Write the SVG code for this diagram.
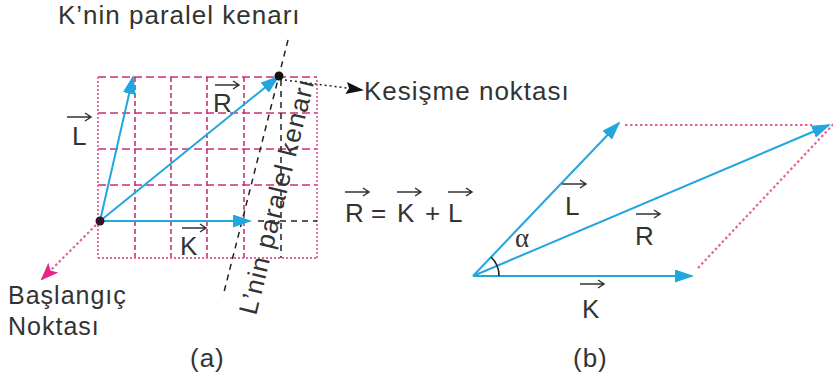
<svg xmlns="http://www.w3.org/2000/svg" xmlns:xlink="http://www.w3.org/1999/xlink" width="833" height="382" viewBox="0 0 833 382">
<style>
  .t { font-family: "Liberation Sans", Arial, sans-serif; font-size: 26px; fill: #333; letter-spacing: 1px; }
  .g-dash-h { stroke: #c8307a; stroke-width: 1.6; stroke-dasharray: 8 4; fill: none; }
  .g-dash-v { stroke: #c8307a; stroke-width: 1.6; stroke-dasharray: 5 3; fill: none; }
  .g-dot { stroke: #e8649f; stroke-width: 1.8; stroke-dasharray: 2 2; fill: none; }
  .blk-dash { stroke: #222; stroke-width: 1.5; stroke-dasharray: 6 5; fill: none; }
  .vec { stroke: #22a6de; stroke-width: 2; fill: none; marker-end: url(#ah); }
  .pink-dot { stroke: #e8609a; stroke-width: 2.2; stroke-dasharray: 2.5 2.5; fill: none; }
  .ov { stroke: #333; stroke-width: 1.5; fill: none; }
</style>
<defs>
  <marker id="ah" markerUnits="userSpaceOnUse" markerWidth="19" markerHeight="13" viewBox="0 0 19 13" refX="17" refY="6.5" orient="auto">
    <path d="M0,0 L19,6.5 L0,13 z" fill="#22a6de"/>
  </marker>
  <marker id="ahp" markerUnits="userSpaceOnUse" markerWidth="18" markerHeight="14" viewBox="0 0 18 14" refX="16" refY="7" orient="auto">
    <path d="M0,0 L18,7 L0,14 L4,7 z" fill="#e5268a"/>
  </marker>
  <marker id="ahk" markerUnits="userSpaceOnUse" markerWidth="18" markerHeight="12" viewBox="0 0 18 12" refX="16" refY="6" orient="auto">
    <path d="M0,0 L18,6 L0,12 L3,6 z" fill="#111"/>
  </marker>
  <path id="ov" d="M0,0 H24 M18,-4 L24,0 L18,4"/>
</defs>

<!-- Panel (a) -->
<g id="grid">
  <line class="g-dash-h" x1="98" y1="77" x2="317" y2="77"/>
  <line class="g-dash-h" x1="98" y1="113" x2="317" y2="113"/>
  <line class="g-dash-h" x1="98" y1="149" x2="317" y2="149"/>
  <line class="g-dash-h" x1="98" y1="185" x2="317" y2="185"/>
  <line class="g-dash-v" x1="135" y1="77" x2="135" y2="258"/>
  <line class="g-dash-v" x1="171" y1="77" x2="171" y2="258"/>
  <line class="g-dash-v" x1="207" y1="77" x2="207" y2="258"/>
  <line class="g-dash-v" x1="244" y1="77" x2="244" y2="258"/>
  <line class="g-dot" x1="98" y1="77" x2="98" y2="258"/>
  <line class="g-dot" x1="317" y1="80" x2="317" y2="258"/>
  <line class="g-dot" x1="98" y1="258" x2="317" y2="258"/>
</g>

<g id="connectors">
  <!-- black construction lines -->
  <line class="blk-dash" x1="281" y1="80" x2="281" y2="258"/>
  <line class="blk-dash" x1="258" y1="221" x2="317" y2="221"/>
  <line class="blk-dash" x1="288" y1="40" x2="223" y2="296"/>
  <!-- vectors (a) -->
  <line class="vec" x1="100" y1="221" x2="133" y2="77"/>
  <line class="vec" x1="100" y1="221" x2="278" y2="77"/>
  <line class="vec" x1="100" y1="221" x2="250" y2="221"/>
  <!-- pointer arrows -->
  <line x1="96" y1="225" x2="42" y2="279" stroke="#e8609a" stroke-width="2.2" stroke-dasharray="2.5 2.5" marker-end="url(#ahp)"/>
  <line x1="285" y1="80" x2="362" y2="90" stroke="#222" stroke-width="1.5" stroke-dasharray="2 3" marker-end="url(#ahk)"/>
  <!-- vectors (b) -->
  <line class="pink-dot" x1="625" y1="125" x2="812" y2="125"/>
  <line class="pink-dot" x1="698" y1="268" x2="842" y2="115"/>
  <line class="vec" x1="473" y1="276" x2="619" y2="123"/>
  <line class="vec" x1="473" y1="276" x2="829" y2="125"/>
  <line class="vec" x1="473" y1="276" x2="692" y2="276"/>
  <path d="M491,257 A26,26 0 0 1 499,276" stroke="#222" stroke-width="1.6" fill="none"/>
</g>

<g id="dots">
  <circle cx="100" cy="221" r="4.5" fill="#3a1030"/>
  <circle cx="279" cy="76" r="4.5" fill="#111"/>
</g>

<g id="labels-a">
  <text class="t" x="58" y="24">K’nin paralel kenarı</text>
  <text class="t" x="364" y="100">Kesişme noktası</text>
  <text class="t" x="8" y="304" style="font-size:25px">Başlangıç</text>
  <text class="t" x="8" y="335" style="font-size:25px">Noktası</text>
  <text class="t" x="190" y="367">(a)</text>
  <text class="t" x="72" y="145">L</text>
  <use href="#ov" class="ov" x="67" y="117"/>
  <text class="t" x="213" y="112">R</text>
  <use href="#ov" class="ov" x="215" y="85"/>
  <text class="t" x="180" y="255">K</text>
  <use href="#ov" class="ov" x="182" y="228"/>
  <text class="t" transform="translate(256,316) rotate(-76)" style="letter-spacing:1.2px">L’nin paralel kenarı</text>
</g>

<g id="labels-b">
  <text class="t" x="345" y="222">R</text>
  <use href="#ov" class="ov" x="345" y="192"/>
  <text class="t" x="371" y="222">=</text>
  <text class="t" x="397" y="222">K</text>
  <use href="#ov" class="ov" x="397" y="192"/>
  <text class="t" x="425" y="222">+</text>
  <text class="t" x="448" y="222">L</text>
  <use href="#ov" class="ov" x="448" y="192"/>
  <text class="t" x="565" y="215">L</text>
  <use href="#ov" class="ov" x="562" y="184"/>
  <text class="t" x="635" y="245">R</text>
  <use href="#ov" class="ov" x="636" y="214"/>
  <text class="t" x="582" y="318">K</text>
  <use href="#ov" class="ov" x="580" y="284"/>
  <text x="515" y="247" style="font-family:'Liberation Serif', 'Times New Roman', serif; font-size:27px; fill:#333">α</text>
  <text class="t" x="573" y="367">(b)</text>
</g>
</svg>
